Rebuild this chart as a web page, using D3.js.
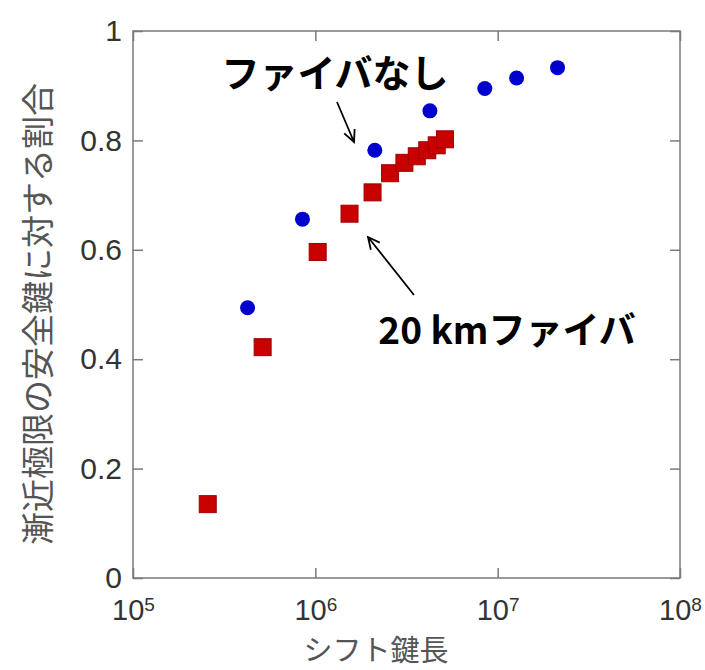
<!DOCTYPE html>
<html>
<head>
<meta charset="utf-8">
<script src="https://cdn.jsdelivr.net/npm/d3@7"></script>
<style>
  body { margin: 0; background: #fff; }
  .axis path { display: none; }
  .axis line { stroke: #7a7a7a; stroke-width: 1.5; }
  .axis text { font-family: "Liberation Sans", Arial, sans-serif; fill: #333; }
</style>
</head>
<body>
<div id="chart-area"></div>
<script>
// data
var noFiberX = [4.25e5, 8.5e5, 2.12e6, 4.25e6, 8.5e6, 1.27e7, 2.13e7];
var noFiberY = [0.494, 0.656, 0.782, 0.854, 0.895, 0.914, 0.933];
var fiberX = [2.57e5, 5.14e5, 1.03e6, 1.54e6, 2.06e6, 2.57e6, 3.08e6, 3.6e6, 4.11e6, 4.63e6, 5.14e6];
var fiberY = [0.135, 0.422, 0.596, 0.666, 0.705, 0.740, 0.759, 0.771, 0.782, 0.791, 0.802];
var xTicks = [1e5, 1e6, 1e7, 1e8];
var yTicks = [0, 0.2, 0.4, 0.6, 0.8, 1];

var margin = { left:133, right:25, top:31, bottom:92 };
var W = 705, H = 670;
var width = W - margin.left - margin.right,
	height = H - margin.top - margin.bottom;

var svg = d3.select("#chart-area")
	.append("svg")
		.attr("width", W)
		.attr("height", H)
var g = svg.append("g")
	.attr("transform", "translate(" + margin.left + ", " + margin.top + ")")

// scales
var x = d3.scaleLog()
	.domain([1e5, 1e8])
	.range([0, width])
var y = d3.scaleLinear()
	.domain([0, 1])
	.range([height, 0])

// frame
g.append("rect")
	.attr("width", width)
	.attr("height", height)
	.attr("fill", "none")
	.attr("stroke", "#7a7a7a")
	.attr("stroke-width", 1.5)

// X axis (ticks point inward)
var xAxis = g.append("g")
	.attr("class", "x axis")
	.attr("transform", "translate(0," + height + ")")
	.call(d3.axisBottom(x).tickValues(xTicks).tickSizeInner(-10).tickSizeOuter(0).tickPadding(13))
xAxis.selectAll("text")
	.text(null)
	.attr("font-size", "29px")
	.each(function(d) {
		var t = d3.select(this)
		t.append("tspan").text("10")
		t.append("tspan")
			.attr("dy", "-0.5em")
			.attr("font-size", "19px")
			.text(Math.round(Math.log10(d)))
	})
	.attr("dy", "1em")
g.append("g")
	.attr("class", "axis")
	.call(d3.axisTop(x).tickValues(xTicks).tickSizeInner(-10).tickSizeOuter(0).tickFormat(""))

// Y axis
g.append("g")
	.attr("class", "y axis")
	.call(d3.axisLeft(y).tickValues(yTicks).tickSizeInner(-10).tickSizeOuter(0).tickPadding(11)
		.tickFormat(d => (d === 0 || d === 1) ? d : d3.format(".1f")(d)))
	.selectAll("text")
		.attr("font-size", "30px")
g.append("g")
	.attr("class", "axis")
	.attr("transform", "translate(" + width + ",0)")
	.call(d3.axisRight(y).tickValues(yTicks).tickSizeInner(-10).tickSizeOuter(0).tickFormat(""))

// axis titles
var cjk = '"Noto Sans CJK JP", "Noto Sans CJK SC", sans-serif'
g.append("text")
	.attr("x", 243)
	.attr("y", height + 83)
	.attr("text-anchor", "middle")
	.attr("font-family", cjk)
	.attr("font-size", "29px")
	.attr("fill", "#555")
	.text("シフト鍵長")
g.append("text")
	.attr("transform", "rotate(-90)")
	.attr("x", -283)
	.attr("y", -83)
	.attr("text-anchor", "middle")
	.attr("font-family", cjk)
	.attr("font-size", "33px")
	.attr("fill", "#555")
	.text("漸近極限の安全鍵に対する割合")

// points
g.selectAll("circle.nofiber")
	.data(noFiberX.map((v, i) => ({ x: v, y: noFiberY[i] })))
	.enter().append("circle")
		.attr("class", "nofiber")
		.attr("cx", d => x(d.x))
		.attr("cy", d => y(d.y))
		.attr("r", 7.5)
		.attr("fill", "#0000cc")

var sq = 17
g.selectAll("rect.fiber")
	.data(fiberX.map((v, i) => ({ x: v, y: fiberY[i] })))
	.enter().append("rect")
		.attr("class", "fiber")
		.attr("x", d => x(d.x) - sq / 2)
		.attr("y", d => y(d.y) - sq / 2)
		.attr("width", sq)
		.attr("height", sq)
		.attr("fill", "#c80000")
		.attr("stroke", "#a00000")
		.attr("stroke-width", 1)

// annotations
svg.append("text")
	.attr("x", 335)
	.attr("y", 87)
	.attr("text-anchor", "middle")
	.attr("font-family", cjk)
	.attr("font-weight", "bold")
	.attr("font-size", "38px")
	.attr("fill", "#000")
	.text("ファイバなし")
svg.append("text")
	.attr("x", 507)
	.attr("y", 344)
	.attr("text-anchor", "middle")
	.attr("font-family", cjk)
	.attr("font-weight", "bold")
	.attr("font-size", "37px")
	.attr("fill", "#000")
	.text("20 kmファイバ")

// arrows (open heads)
function arrow(x1, y1, x2, y2) {
	var a = Math.atan2(y2 - y1, x2 - x1), L = 13, s = 0.45
	svg.append("path")
		.attr("d", "M" + x1 + "," + y1 + "L" + x2 + "," + y2 +
			"M" + (x2 - L * Math.cos(a - s)) + "," + (y2 - L * Math.sin(a - s)) +
			"L" + x2 + "," + y2 +
			"L" + (x2 - L * Math.cos(a + s)) + "," + (y2 - L * Math.sin(a + s)))
		.attr("fill", "none")
		.attr("stroke", "#000")
		.attr("stroke-width", 1.8)
}
arrow(337, 102, 354, 142)
arrow(414, 295, 368, 237)
</script>
</body>
</html>
